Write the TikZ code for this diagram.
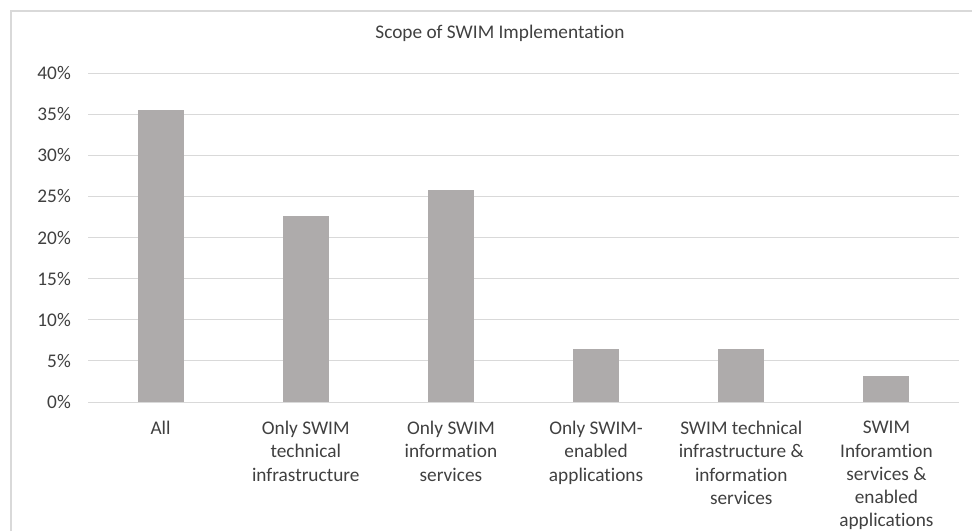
\documentclass[tikz,border=0pt]{standalone}
\usepackage{fontspec}
\setmainfont{Carlito}[Ligatures=NoCommon]
\usepackage{xcolor}
\usepackage{tikz}
\usetikzlibrary{positioning}
\definecolor{bargray}{HTML}{AEABAB}
\definecolor{gridgray}{HTML}{D9D9D9}
\definecolor{textgray}{HTML}{404040}

\begin{document}
\begin{tikzpicture}[x=1pt, y=-1pt, every node/.style={font=\fontsize{19.3}{23.3}\selectfont, text=textgray, inner sep=0pt}, bar/.style={fill=bargray, draw=none}, gridline/.style={draw=gridgray, line width=1pt}, catlabel/.style={anchor=north, align=center}]
\useasboundingbox (0,0) rectangle (972,531);
\draw [gridgray, line width=1.2pt] (11,531) -- (11,11) -- (972,11);
\node (title) at (500,33) {Scope of SWIM Implementation};

% gridlines and axis labels
\foreach \p in {0,5,...,40} {
  \draw [gridline] (88,{402-\p*8.225}) -- (959,{402-\p*8.225});
  \node (tick\p) [anchor=east] at (71,{402-\p*8.225}) {\p\%};
}

% bars
\foreach \v [count=\i] in {35.5,22.6,25.8,6.5,6.5,3.2} {
  \fill [bar] ({88+145.17*(\i-0.5)-23},402) rectangle ({88+145.17*(\i-0.5)+23},{402-\v*8.225});
}

% category labels
\foreach \t [count=\i] in {{All}, {Only SWIM\\technical\\infrastructure}, {Only SWIM\\information\\services}, {Only SWIM-\\enabled\\applications}, {SWIM technical\\infrastructure \&\\information\\services}, {SWIM\\Inforamtion\\services \&\\enabled\\applications}} {
  \node (cat\i) [catlabel] at ({88+145.17*(\i-0.5)},421) {\t};
}
\end{tikzpicture}
\end{document}
